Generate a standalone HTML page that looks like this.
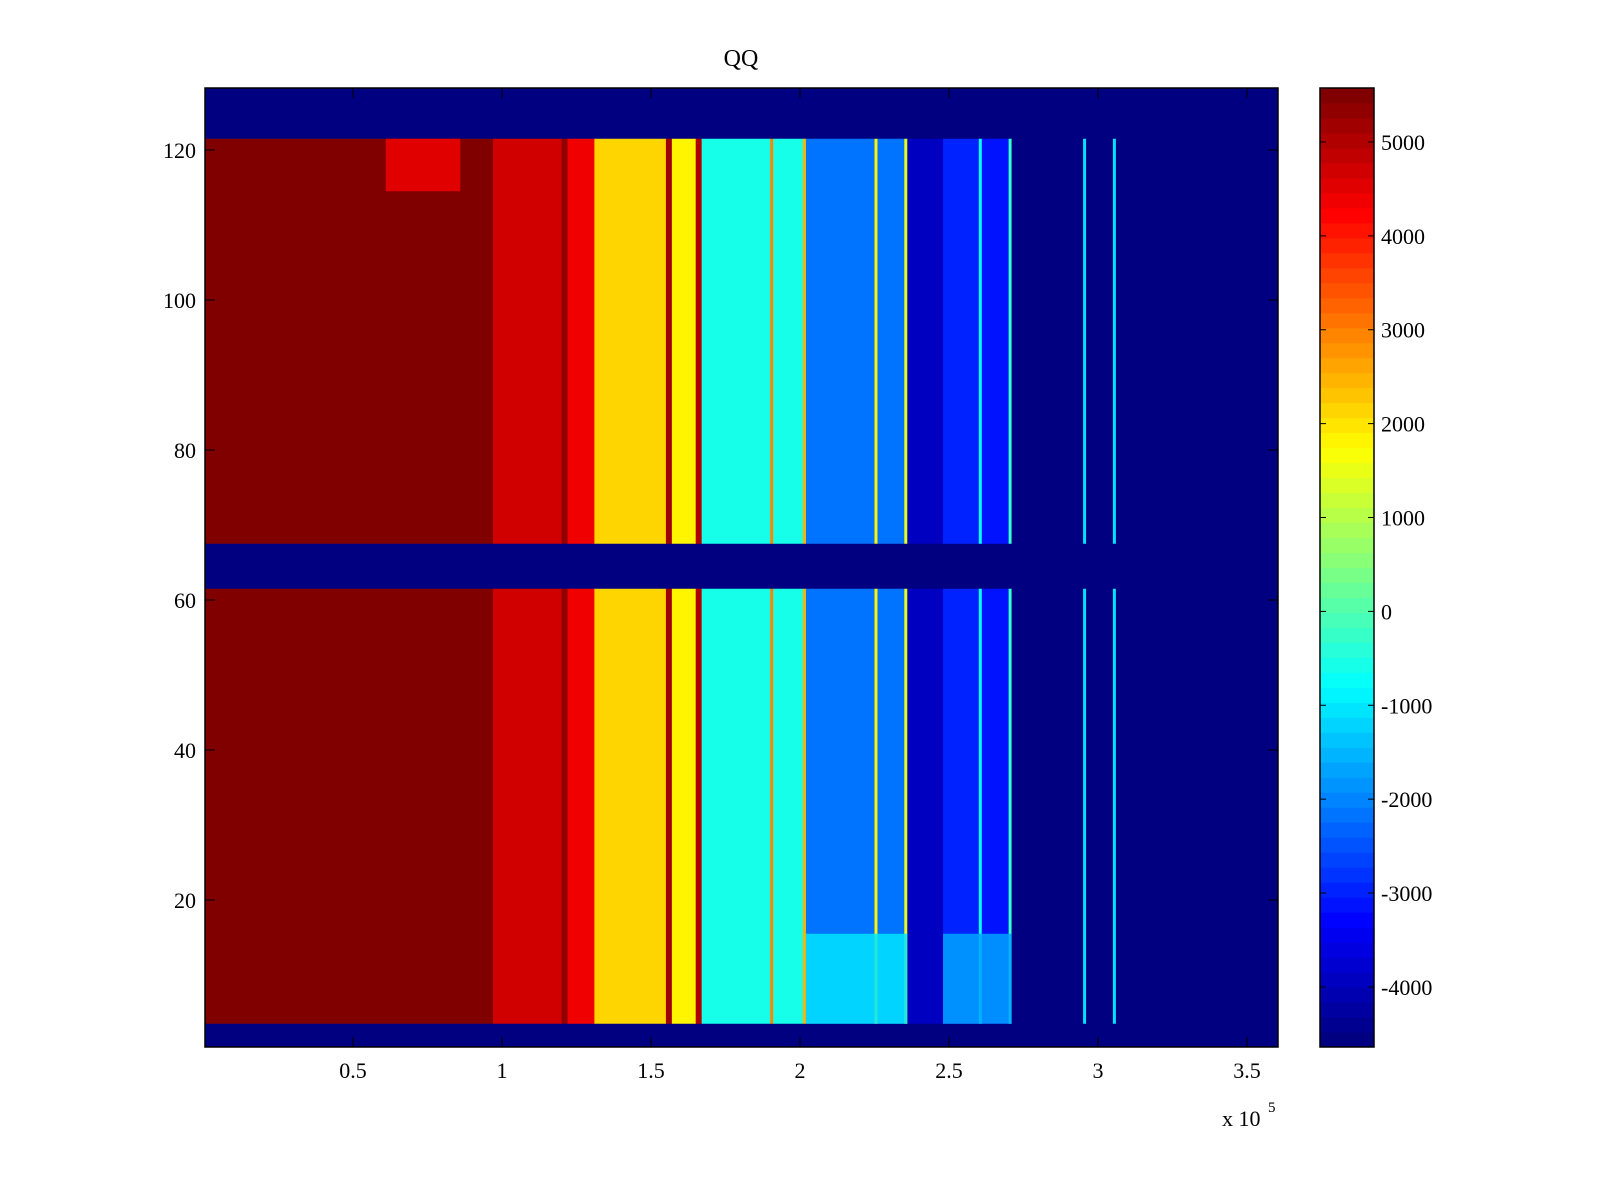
<!DOCTYPE html>
<html><head><meta charset="utf-8">
<style>
body{margin:0;background:#fff;}
svg{display:block;}
text{font-family:"Liberation Serif",serif;fill:#000;}
</style></head>
<body>
<svg id="chart" width="1600" height="1200" viewBox="0 0 1600 1200" xmlns="http://www.w3.org/2000/svg">
<rect x="0" y="0" width="1600" height="1200" fill="#fff"/>
<text x="741" y="66" font-size="24" text-anchor="middle">QQ</text>
<defs><clipPath id="pc"><rect x="205" y="88" width="1073" height="959"/></clipPath></defs>
<g id="cells" clip-path="url(#pc)"></g>
<g id="axes"></g>
<g id="cbar"></g>
<text x="1222" y="1126" font-size="22">x 10</text>
<text x="1268" y="1112" font-size="15">5</text>
</svg>
<script>
// column bands: start x (1e5 units), end x, value
const bandStart = [0,0.97,1.20,1.22,1.31,1.55,1.57,1.65,1.67,1.90,1.91,2.01,2.02,2.25,2.26,2.35,2.36,2.48,2.60,2.61,2.70,2.71,2.95,2.96,3.05,3.06];
const bandEnd   = [0.97,1.20,1.22,1.31,1.55,1.57,1.65,1.67,1.90,1.91,2.01,2.02,2.25,2.26,2.35,2.36,2.48,2.60,2.61,2.70,2.71,2.95,2.96,3.05,3.06,3.61];
const bandValue = [5550,4700,5400,4400,2100,5200,1800,5000,-500,3000,-500,2500,-2200,1800,-2200,1500,-4000,-3000,-800,-3200,-300,-4550,-1000,-4500,-1000,-4640];
// active row ranges (rows outside are minimum)
const rowStart = [3.5,67.5];
const rowEnd = [61.5,121.5];
// patches: x0,x1,r0,r1,value
const patchX0 = [0.61,2.02,2.48];
const patchX1 = [0.86,2.36,2.71];
const patchR0 = [114.5,3.5,3.5];
const patchR1 = [121.5,15.5,15.5];
const patchV  = [4300,-1100,-1700];
const cTicks = [5000,4000,3000,2000,1000,0,-1000,-2000,-3000,-4000];
const xTicks = [0.5,1,1.5,2,2.5,3,3.5];
const yTicks = [20,40,60,80,100,120];
const vMin=-4640, vMax=5575;

const NS="http://www.w3.org/2000/svg";
const xS = x => 204 + 298*x;
const yS = r => 1050 - 7.5*r;
const cS = v => 1047 - (v - vMin)/(vMax - vMin)*959;
function jet(t){
  t=Math.max(0,Math.min(1,t));
  const f=v=>Math.round(255*Math.max(0,Math.min(1,v)));
  return `rgb(${f(1.5-Math.abs(4*t-3))},${f(1.5-Math.abs(4*t-2))},${f(1.5-Math.abs(4*t-1))})`;
}
const col = v => { const t=(v-vMin)/(vMax-vMin); return jet(Math.floor(t*63.999)/63); };
function mk(tag, attrs, parent){ const e=document.createElementNS(NS,tag); for(const k in attrs) e.setAttribute(k,attrs[k]); parent.appendChild(e); return e; }
const cells=document.getElementById('cells');
const bg=mk('rect',{x:205,y:88,width:1073,height:959,fill:col(vMin)},cells);


for(let s=0;s<rowStart.length;s++){
  for(let i=0;i<bandStart.length;i++){
    const r=mk('rect',{x:xS(bandStart[i]),y:yS(rowEnd[s]),width:xS(bandEnd[i])-xS(bandStart[i])+0.5,height:yS(rowStart[s])-yS(rowEnd[s]),fill:col(bandValue[i])},cells);
    
    
  }
}
for(let i=0;i<patchV.length;i++){
  const r=mk('rect',{x:xS(patchX0[i]),y:yS(patchR1[i]),width:xS(patchX1[i])-xS(patchX0[i]),height:yS(patchR0[i])-yS(patchR1[i]),fill:col(patchV[i]),opacity:0.85},cells);
  
  
}
const axes=document.getElementById('axes');
const frame=mk('rect',{x:205,y:88,width:1073,height:959,fill:'none',stroke:'#000','stroke-width':1.5},axes);


xTicks.forEach(v=>{
  const x=xS(v);
  mk('line',{x1:x,x2:x,y1:1047,y2:1037,stroke:'#000'},axes);
  mk('line',{x1:x,x2:x,y1:88,y2:98,stroke:'#000'},axes);
  const t=mk('text',{x:x,y:1078,'font-size':22,'text-anchor':'middle'},axes);
  t.textContent=String(v);
  
  
});
yTicks.forEach(v=>{
  const y=yS(v);
  mk('line',{x1:205,x2:215,y1:y,y2:y,stroke:'#000'},axes);
  mk('line',{x1:1278,x2:1268,y1:y,y2:y,stroke:'#000'},axes);
  const t=mk('text',{x:196,y:y+8,'font-size':22,'text-anchor':'end'},axes);
  t.textContent=String(v);
  
  
});
const cb=document.getElementById('cbar');
for(let k=0;k<64;k++){
  const v0=vMin+(vMax-vMin)*k/64, v1=vMin+(vMax-vMin)*(k+1)/64;
  const r=mk('rect',{x:1320,y:cS(v1),width:54,height:cS(v0)-cS(v1)+0.5,fill:jet(k/63)},cb);
  
  
}
mk('rect',{x:1320,y:88,width:54,height:959,fill:'none',stroke:'#000','stroke-width':1.5},cb);
cTicks.forEach(v=>{
  const y=cS(v);
  mk('line',{x1:1320,x2:1326,y1:y,y2:y,stroke:'#000'},cb);
  mk('line',{x1:1374,x2:1368,y1:y,y2:y,stroke:'#000'},cb);
  const t=mk('text',{x:1381,y:y+8,'font-size':22},cb);
  t.textContent=String(v);
  
  
});
</script>
</body></html>
